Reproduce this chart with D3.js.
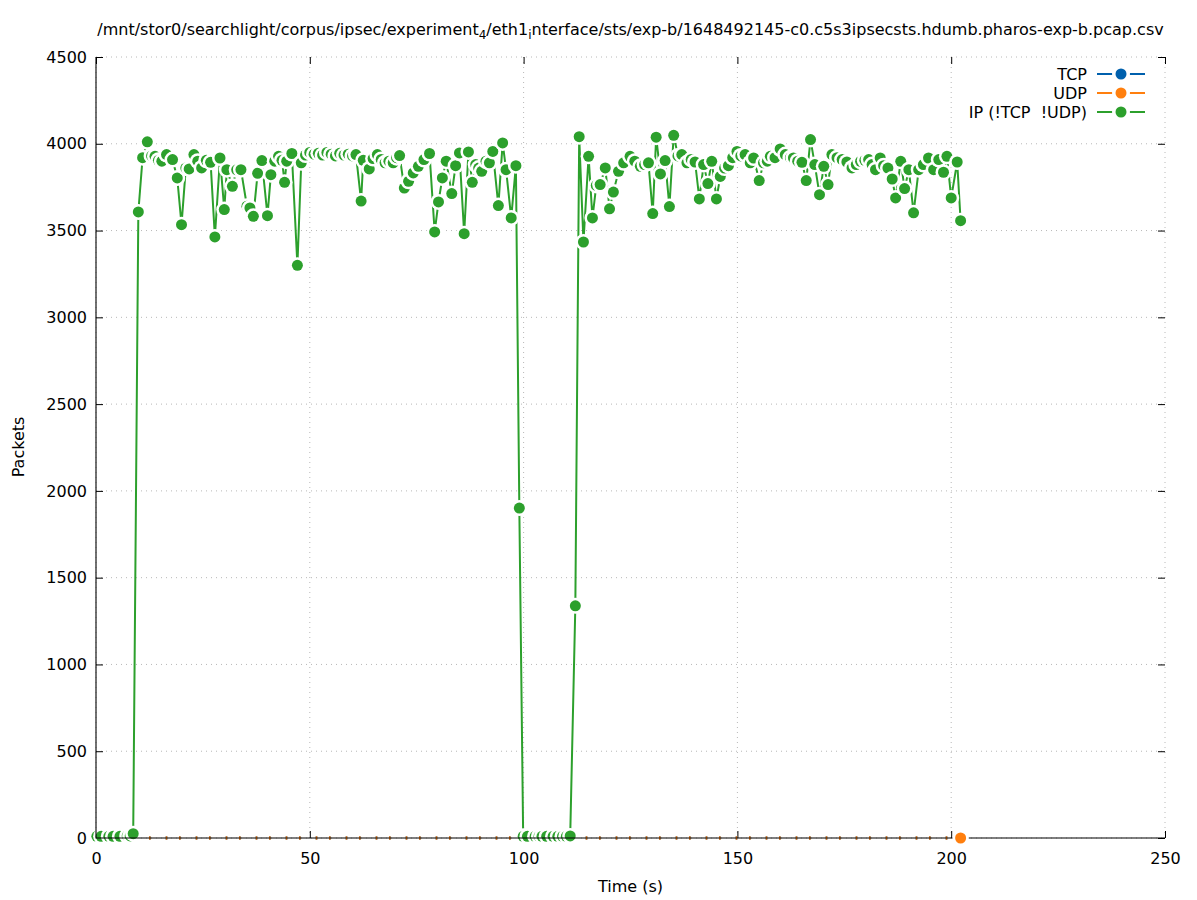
<!DOCTYPE html>
<html><head><meta charset="utf-8">
<script src="https://cdn.jsdelivr.net/npm/d3@7"></script>
<style>
body{margin:0;background:#fff}
text{font-family:"DejaVu Sans",sans-serif;fill:#000}
</style>
</head><body>
<svg id="chart" width="1197" height="900"></svg>
<script>
// ---------- data ----------
const xTicks = [0, 50, 100, 150, 200, 250];
const yTicks = [0, 500, 1000, 1500, 2000, 2500, 3000, 3500, 4000, 4500];
const seriesNames = ["TCP", "UDP", "IP (!TCP  !UDP)"];
const seriesColors = ["#0060ad", "#ff7f0e", "#2ca02c"];
const titleParts = [
  ["/mnt/stor0/searchlight/corpus/ipsec/experiment", false],
  ["4", true],
  ["/eth1", false],
  ["i", true],
  ["nterface/sts/exp-b/1648492145-c0.c5s3ipsecsts.hdumb.pharos-exp-b.pcap.csv", false]
];
const xLabel = "Time (s)";
const yLabel = "Packets";

const tcpTime = [0, 202.2];
const tcpValue = [0, 0];
const udpTime = [0, 202.2];
const udpValue = [0, 0];

const ipTime = [
  0.2, 1.2, 3.0, 4.0, 5.6, 7.3, 8.0, 8.7, 9.9, 10.9, 12.0, 13.0, 13.8, 14.6, 15.4, 16.5, 17.9, 19.0, 20.0, 21.0, 21.8, 22.9, 23.8, 24.7,
  25.8, 26.8, 27.8, 29.0, 30.0, 30.6, 31.9, 32.9, 33.9, 35.3, 36.0, 36.8, 37.8, 38.8, 40.1, 40.9, 41.8, 42.7, 43.5, 44.1,
  44.6, 45.8, 47.1, 48.0, 49.0, 50.0, 51.0, 52.0, 53.0, 54.0, 55.0, 56.0, 57.0, 58.0, 59.0, 60.0, 60.8, 62.0, 62.5, 63.9,
  64.8, 65.8, 66.7, 67.6, 68.5, 69.5, 70.3, 71.0, 72.1, 73.1, 74.2, 75.4, 76.7, 78.0, 79.2, 80.1, 81.0, 81.9, 83.2, 84.1,
  85.0, 86.1, 87.1, 88.0, 88.8, 89.5, 90.2, 91.2, 92.0, 92.8, 94.1, 95.1, 95.9, 97.1, 98.2, 99.0,
  99.9, 100.9, 102.7, 103.6, 104.3, 105.4, 106.9, 108.0, 109.1, 110.0, 110.9,
  112.1, 113.0, 114.0, 115.2, 116.1, 117.0, 117.9, 119.1, 120.1, 121.0, 122.2, 123.4, 124.9, 126.0, 127.3, 128.3, 129.2, 130.2, 131.0, 132.0,
  133.1, 134.1, 135.1, 136.1, 137.0, 138.2, 139.2, 140.1, 141.1, 142.1, 143.1, 144.0, 145.1, 146.0, 147.0, 147.9, 148.9, 149.9, 150.8, 151.8,
  153.0, 153.8, 155.1, 156.1, 157.0, 157.7, 158.8, 160.0, 161.2, 162.4, 163.1, 164.1, 165.1, 166.1, 167.1, 168.1, 169.2, 170.2, 171.2, 172.1,
  173.3, 174.5, 175.6, 176.8, 177.8, 178.8, 179.8, 180.7, 181.5, 182.3, 183.4, 184.2, 185.2, 186.2, 187.0, 188.2, 189.1, 190.1, 191.2, 192.4,
  193.5, 194.7, 195.9, 197.1, 198.2, 199.0, 200.0, 201.4, 202.2
];
const ipValue = [
  10, 10, 10, 10, 10, 12, 12, 25, 3607, 3920, 4011, 3930, 3928, 3905, 3900, 3938, 3909, 3803, 3534, 3860, 3855, 3938, 3900, 3861,
  3905, 3893, 3463, 3918, 3621, 3851, 3755, 3850, 3851, 3640, 3630, 3582, 3830, 3903, 3586, 3822, 3900, 3928, 3905, 3778,
  3900, 3944, 3300, 3890, 3935, 3950, 3940, 3945, 3935, 3950, 3940, 3930, 3945, 3935, 3940, 3930, 3938, 3670, 3905, 3855,
  3915, 3938, 3910, 3890, 3900, 3890, 3920, 3932, 3745, 3784, 3832, 3870, 3909, 3944, 3492, 3665, 3803, 3900, 3713, 3874,
  3947, 3482, 3953, 3778, 3880, 3860, 3841, 3900, 3890, 3956, 3644, 4005, 3851, 3573, 3874, 1901,
  10, 10, 10, 10, 10, 10, 10, 10, 10, 10, 12,
  1338, 4041, 3434, 3928, 3573, 3760, 3765, 3861, 3625, 3722, 3841, 3890, 3928, 3900, 3870, 3880, 3890, 3598, 4038, 3826,
  3903, 3638, 4049, 3930, 3938, 3890, 3910, 3895, 3682, 3880, 3771, 3899, 3682, 3812, 3860, 3874, 3920, 3956, 3930, 3938,
  3890, 3918, 3788, 3890, 3900, 3928, 3920, 3970, 3938, 3920, 3918, 3900, 3893, 3788, 4024, 3880, 3707, 3870, 3765, 3938,
  3920, 3909, 3895, 3861, 3880, 3899, 3905, 3909, 3880, 3851, 3918, 3874, 3860, 3797, 3688, 3899, 3742, 3851, 3602, 3851,
  3880, 3918, 3851, 3909, 3836, 3928, 3688, 3895, 3557
];

// ---------- layout ----------
const L = 96, R = 1165, T = 57, B = 838;
const svg = d3.select("#chart");
const x = d3.scaleLinear().domain([0, 250]).range([L, R]);
const y = d3.scaleLinear().domain([0, 4500]).range([B, T]);
const FS = 16;

// grid
const grid = svg.append("g");
grid.selectAll("line.gx").data(xTicks).join("line")
  .attr("x1", d => x(d)).attr("x2", d => x(d)).attr("y1", T).attr("y2", B)
  .attr("stroke", "#b8b8b8").attr("stroke-width", 1).attr("stroke-dasharray", "1,4");
grid.selectAll("line.gy").data(yTicks).join("line")
  .attr("x1", L).attr("x2", R).attr("y1", d => y(d)).attr("y2", d => y(d))
  .attr("stroke", "#b8b8b8").attr("stroke-width", 1).attr("stroke-dasharray", "1,4");

// axes
function styleAxis(g, labels) {
  g.select(".domain").remove();
  g.selectAll(".tick line").attr("stroke", "#000").attr("stroke-width", 1);
  g.selectAll(".tick text").attr("font-size", FS).attr("font-family", "DejaVu Sans").attr("fill", "#000");
  if (!labels) g.selectAll(".tick text").remove();
}
svg.append("g").attr("transform", `translate(${L},0)`)
  .call(d3.axisLeft(y).tickValues(yTicks).tickSize(-7).tickPadding(9).tickFormat(d3.format("d")))
  .call(g => styleAxis(g, true));
svg.append("g").attr("transform", `translate(${R},0)`)
  .call(d3.axisRight(y).tickValues(yTicks).tickSize(-7))
  .call(g => styleAxis(g, false));
svg.append("g").attr("transform", `translate(0,${B})`)
  .call(d3.axisBottom(x).tickValues(xTicks).tickSize(-7).tickPadding(15).tickFormat(d3.format("d")))
  .call(g => styleAxis(g, true));
svg.append("g").attr("transform", `translate(0,${T})`)
  .call(d3.axisTop(x).tickValues(xTicks).tickSize(-7))
  .call(g => styleAxis(g, false));

// ---------- series ----------
const line = d3.line().x(d => x(d[0])).y(d => y(d[1]));
const RW = 8, RD = 5.5;
const seriesLayer = svg.append("g");
svg.append("path").attr("d", `M${L},${T}V${B}H${R}`).attr("fill", "none")
  .attr("stroke", "#000").attr("stroke-width", 1.1);
const markerLayer = svg.append("g");

function drawSeries(times, values, color, allPoints, dashed) {
  const pts = times.map((t, i) => [t, values[i]]);
  const g = seriesLayer.append("g");
  const p = g.append("path").attr("d", line(pts)).attr("fill", "none")
    .attr("stroke", color).attr("stroke-width", dashed ? 3.5 : 2).attr("stroke-linejoin", "round");
  if (dashed) p.attr("stroke-dasharray", "1.6,15.1,1.6,11.7").attr("stroke-dashoffset", 7);
  const shown = allPoints ? pts : pts.slice(-1);
  const mg = allPoints ? g : markerLayer;
  shown.forEach(d => {
    mg.append("circle").attr("cx", x(d[0])).attr("cy", y(d[1])).attr("r", RW).attr("fill", "#fff");
    mg.append("circle").attr("cx", x(d[0])).attr("cy", y(d[1])).attr("r", RD).attr("fill", color);
  });
}
drawSeries(tcpTime, tcpValue, seriesColors[0], false, true);
drawSeries(udpTime, udpValue, seriesColors[1], false, true);
drawSeries(ipTime, ipValue, seriesColors[2], true, false);

// ---------- legend ----------
const lg = svg.append("g");
seriesNames.forEach((name, i) => {
  const cy = 74 + i * 19;
  lg.append("text").attr("x", 1087).attr("y", cy).attr("dy", "0.35em")
    .attr("text-anchor", "end").attr("font-size", FS).style("white-space", "pre").text(name);
  lg.append("line").attr("x1", 1097).attr("x2", 1145).attr("y1", cy).attr("y2", cy)
    .attr("stroke", seriesColors[i]).attr("stroke-width", 2);
  lg.append("circle").attr("cx", 1121).attr("cy", cy).attr("r", 9).attr("fill", "#fff");
  lg.append("circle").attr("cx", 1121).attr("cy", cy).attr("r", RD).attr("fill", seriesColors[i]);
});

// ---------- titles ----------
const title = svg.append("text").attr("x", (L + R) / 2).attr("y", 35)
  .attr("text-anchor", "middle").attr("font-size", FS);
titleParts.forEach(([s, sub], i) => {
  const ts = title.append("tspan").text(s);
  if (sub) ts.attr("font-size", FS * 0.75).attr("dy", 4);
  else if (i > 0) ts.attr("dy", -4);
});
svg.append("text").attr("x", (L + R) / 2).attr("y", 892).attr("text-anchor", "middle")
  .attr("font-size", FS).text(xLabel);
svg.append("text").attr("transform", `translate(24,447) rotate(-90)`).attr("text-anchor", "middle")
  .attr("font-size", FS).text(yLabel);
</script>
</body></html>
